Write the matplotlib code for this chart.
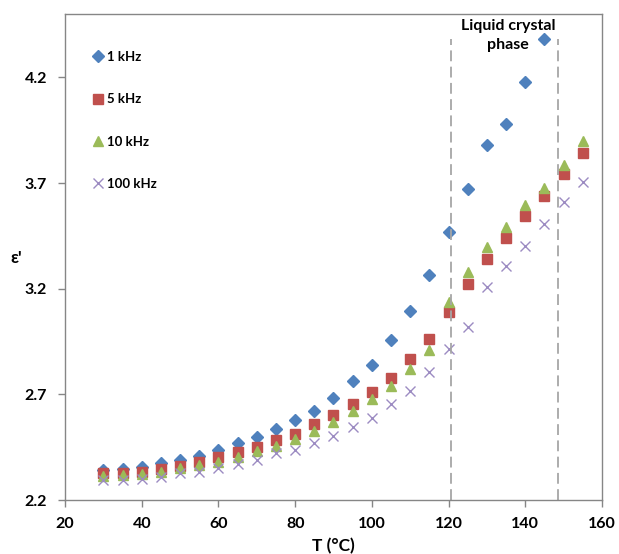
import matplotlib
matplotlib.use("Agg")
import matplotlib.pyplot as plt

plt.rcParams['font.family'] = ['Lato', 'DejaVu Sans']
plt.rcParams['font.weight'] = 'bold'

T = [30, 35, 40, 45, 50, 55, 60, 65, 70, 75, 80, 85, 90, 95, 100, 105, 110, 115, 120, 125, 130, 135, 140, 145, 150, 155]
eps_1k = [2.342, 2.345, 2.358, 2.374, 2.39, 2.41, 2.437, 2.469, 2.50, 2.536, 2.579, 2.623, 2.685, 2.764,
          2.84, 2.955, 3.094, 3.266, 3.467, 3.672, 3.881, 3.979, 4.178, 4.38]
eps_5k = [2.327, 2.33, 2.334, 2.348, 2.363, 2.382, 2.402, 2.426, 2.45, 2.484, 2.513, 2.559, 2.601, 2.652,
          2.712, 2.778, 2.867, 2.963, 3.09, 3.224, 3.341, 3.442, 3.543, 3.638, 3.744, 3.843]
eps_10k = [2.314, 2.316, 2.323, 2.331, 2.35, 2.366, 2.382, 2.402, 2.434, 2.457, 2.487, 2.527, 2.571, 2.622,
           2.677, 2.74, 2.821, 2.911, 3.135, 3.277, 3.396, 3.49, 3.597, 3.677, 3.786, 3.897]
eps_100k = [2.295, 2.297, 2.298, 2.31, 2.327, 2.334, 2.35, 2.371, 2.39, 2.421, 2.437, 2.472, 2.503, 2.547,
            2.59, 2.653, 2.718, 2.807, 2.914, 3.021, 3.21, 3.306, 3.404, 3.508, 3.609, 3.704]
labels = ['1 kHz', '5 kHz', '10 kHz', '100 kHz']
phase_bounds = [120.6, 148.5]
xticks = [20, 40, 60, 80, 100, 120, 140, 160]
yticks = [2.2, 2.7, 3.2, 3.7, 4.2]

fig = plt.figure(figsize=(6.19, 5.54), dpi=100)
ax = fig.add_axes([65/619, 1-500/554, (602-65)/619, (500-14)/554])

ax.plot(T[:len(eps_1k)], eps_1k, 'D', color='#4F81BD', markersize=6, linestyle='none', label=labels[0])
ax.plot(T, eps_5k, 's', color='#C0504D', markersize=6.5, linestyle='none', label=labels[1])
ax.plot(T, eps_10k, '^', color='#9BBB59', markersize=7.5, linestyle='none', label=labels[2])
ax.plot(T, eps_100k, 'x', color='#9C8BC2', markersize=7, markeredgewidth=1.0, linestyle='none', label=labels[3])

for xb in phase_bounds:
    ax.plot([xb, xb], [2.2, 4.38], color='#A6A6A6', linewidth=1.3, dashes=(6, 3))

ax.text(135.5, 4.397, 'Liquid crystal\nphase', ha='center', va='center', fontsize=11.5,
        fontweight='bold', linespacing=1.45)

ax.set_xlim(20, 160)
ax.set_ylim(2.2, 4.5)
ax.set_xticks(xticks)
ax.set_yticks(yticks)
ax.set_yticklabels([f'{v:.1f}' for v in yticks])
for s in ax.spines.values():
    s.set_color('#868686')
    s.set_linewidth(1.0)
ax.tick_params(direction='out', length=5, width=1, color='#868686', labelsize=11.5)
ax.tick_params(axis='x', pad=7)
ax.tick_params(axis='y', pad=8)
for lab in ax.get_xticklabels() + ax.get_yticklabels():
    lab.set_fontweight('bold')

ax.set_xlabel('T (°C)', fontsize=12.5, fontweight='bold', labelpad=5)
fig.text(16/619, 1-258/554, "ε'", fontsize=12.5, fontweight='bold', ha='center', va='center')

leg = ax.legend(loc='upper left', bbox_to_anchor=(0.036, 0.935), frameon=False, fontsize=9.5,
                handletextpad=0.1, labelspacing=2.3, handlelength=1.2, borderaxespad=0)

fig.savefig('out.png', dpi=100)
